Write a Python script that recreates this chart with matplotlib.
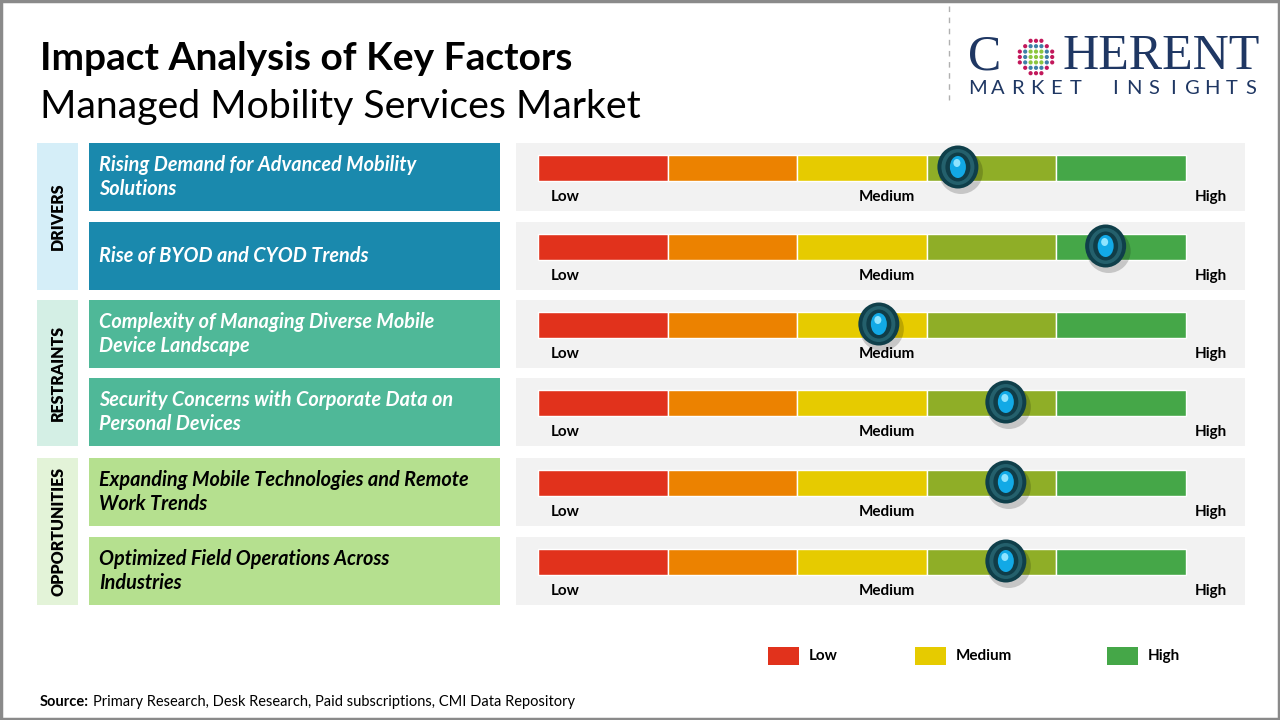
import numpy as np
import matplotlib.pyplot as plt
from matplotlib.patches import Rectangle, Ellipse

plt.rcParams['font.family'] = ['Lato', 'DejaVu Sans']

#-----------------------------------------------------------------------------
# data

title = 'Impact Analysis of Key Factors'
subtitle = 'Managed Mobility Services Market'

groups = ['DRIVERS', 'RESTRAINTS', 'OPPORTUNITIES']
group_rows = [2, 2, 2]

factors = ['Rising Demand for Advanced Mobility\nSolutions',
           'Rise of BYOD and CYOD Trends',
           'Complexity of Managing Diverse Mobile\nDevice Landscape',
           'Security Concerns with Corporate Data on\nPersonal Devices',
           'Expanding Mobile Technologies and Remote\nWork Trends',
           'Optimized Field Operations Across\nIndustries']
# impact on a 0 (low) .. 5 (high) scale, one unit per colour band
impact = [3.24, 4.38, 2.63, 3.61, 3.61, 3.61]

band_colors = ['#e1321c', '#ec8200', '#e6cb00', '#8fae27', '#45a748']
scale_labels = ['Low', 'Medium', 'High']
legend_labels = ['Low', 'Medium', 'High']
legend_colors = ['#e1321c', '#e6cb00', '#45a748']

source = 'Primary Research, Desk Research, Paid subscriptions, CMI Data Repository'

#-----------------------------------------------------------------------------
# style

group_bg = ['#d5eef8', '#d4efe5', '#e3f3d8']
box_color = ['#1a89ad', '#4fb898', '#b5e08f']
box_text = ['white', 'white', 'black']
row_top = [143, 222, 300, 378, 458, 537]
row_h = 68
gx0, gx1 = 538, 1186          # gauge bar extent in px
band_w = (gx1 - gx0) / 5.0

fig = plt.figure(figsize=(12.8, 7.2), dpi=100)
ax = fig.add_axes([0, 0, 1, 1])
ax.set_xlim(0, 1280)
ax.set_ylim(720, 0)
ax.axis('off')

# outer border
ax.add_patch(Rectangle((1, 1), 1278, 718, fill=False, ec='#8a8a8a', lw=2.5))

ax.text(40, 58, title, fontsize=28, fontweight='bold', va='center', color='black')
ax.text(40, 107, subtitle, fontsize=28.3, va='center', color='black')

# logo
ax.plot([949, 949], [6, 100], ls=(0, (4, 4)), color='#b0b0b0', lw=1)
ax.text(968, 57, 'C', fontsize=36, family='Liberation Serif', color='#1f3763',
        va='center', ha='left')
ax.text(1062, 57, 'HERENT', fontsize=36, family='Liberation Serif', color='#1f3763',
        va='center', ha='left')
tag = 'MARKET INSIGHTS'
for k, ch in enumerate(tag):
    ax.text(978 + k * 19.5, 89, ch, fontsize=14.5, color='#1f3763',
            va='center', ha='center')
# dotted globe in place of the O
cx, cy = 1036, 57
for i in range(-3, 4):
    for j in range(-3, 4):
        r = np.hypot(i, j)
        if r > 3.3:
            continue
        c = '#8cc63f' if r < 1.6 else ('#3e7fa6' if r < 2.6 else '#c2185b')
        ax.add_patch(Ellipse((cx + i * 5.4, cy + j * 5.4), 4.2, 4.2, color=c, lw=0))

# group side panels
r = 0
for g, name in enumerate(groups):
    n = group_rows[g]
    y0 = row_top[r]
    y1 = row_top[r + n - 1] + row_h
    ax.add_patch(Rectangle((37, y0), 41, y1 - y0, color=group_bg[g], lw=0))
    ax.text(58, (y0 + y1) / 2, name, rotation=90, fontsize=11.5, fontweight='heavy',
            ha='center', va='center')
    for k in range(n):
        yt = row_top[r + k]
        ax.add_patch(Rectangle((89, yt), 411, row_h, color=box_color[g], lw=0))
        lines = factors[r + k].split('\n')
        if len(lines) == 1:
            ax.text(99, yt + row_h / 2, lines[0], fontsize=14.3, fontweight='bold',
                    style='italic', color=box_text[g], va='center')
        else:
            for li, txt in enumerate(lines):
                ax.text(99, yt + 22 + li * 24, txt, fontsize=14.3, fontweight='bold',
                        style='italic', color=box_text[g], va='center')
    r += n

# gauges
for i, v in enumerate(impact):
    yt = row_top[i]
    ax.add_patch(Rectangle((516, yt), 729, row_h, color='#f2f2f2', lw=0))
    by = yt + 12
    ax.barh([by + 13] * 5, [band_w] * 5, left=gx0 + band_w * np.arange(5), height=26,
            color=band_colors, edgecolor='white', linewidth=1)
    ly = yt + 54
    ax.text(551, ly, scale_labels[0], fontsize=11, fontweight='bold', ha='left', va='center')
    ax.text(887, ly, scale_labels[1], fontsize=11, fontweight='bold', ha='center', va='center')
    ax.text(1211, ly, scale_labels[2], fontsize=11, fontweight='bold', ha='center', va='center')

    mx = gx0 + v * band_w
    my = by + 12
    ax.add_patch(Ellipse((mx + 3, my + 5), 44, 44, color='black', alpha=0.18, lw=0))
    ax.add_patch(Ellipse((mx, my), 41, 43, color='#0f3f4a', lw=0))
    ax.add_patch(Ellipse((mx, my), 33, 36, color='#24606c', lw=0))
    ax.add_patch(Ellipse((mx, my), 25, 29, color='#103d48', lw=0))
    ax.add_patch(Ellipse((mx, my), 16, 22, color='#12a9e6', lw=0))
    ax.add_patch(Ellipse((mx - 1, my - 4), 7, 8, color='#8fe4ff', lw=0))

# legend
lx = [768, 915, 1107]
for k in range(3):
    ax.add_patch(Rectangle((lx[k], 647), 31, 18, color=legend_colors[k], lw=0))
    ax.text(lx[k] + 41, 656, legend_labels[k], fontsize=11, fontweight='bold', va='center')

ax.text(40, 702, 'Source:', fontsize=10.5, fontweight='bold', va='center')
ax.text(93, 702, source, fontsize=10.5, va='center')

fig.savefig('out.png', dpi=100)
